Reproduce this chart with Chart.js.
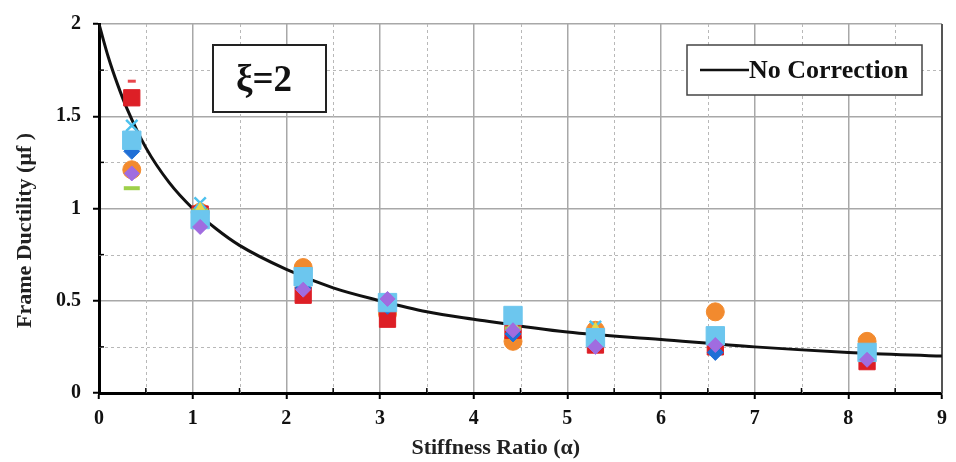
<!DOCTYPE html>
<html>
<head>
<meta charset="utf-8">
<script src="https://cdn.jsdelivr.net/npm/chart.js@4.4.1/dist/chart.umd.min.js"></script>
<style>
  html, body { margin: 0; padding: 0; background: #fff; }
  #wrap { width: 956px; height: 462px; position: relative; }
</style>
</head>
<body>
<div id="wrap"><canvas id="ductChart"></canvas></div>
<script>
// stiffness ratios where the markers sit
const stiffness = [0.35, 1.08, 2.18, 3.08, 4.42, 5.3, 6.58, 8.2];

// marker series
const redSquare      = [1.60, 0.97, 0.53, 0.40, 0.34, 0.26, 0.25, 0.17];
const orangeCircle   = [1.21, 0.98, 0.68, 0.43, 0.28, 0.34, 0.44, 0.28];
const blueDiamond    = [1.31, 0.92, 0.57, 0.47, 0.32, 0.29, 0.22, 0.19];
const purpleDiamond  = [1.19, 0.90, 0.56, 0.51, 0.34, 0.25, 0.26, 0.18];
const greenDash      = [1.11, 0.99, 0.59, 0.46, 0.35, 0.33, 0.28, 0.21];
const cyanCross      = [1.45, 1.03, 0.62, 0.49, 0.38, 0.36, 0.30, 0.23];
const yellowTriangle = [null, 0.99, 0.60, 0.47, 0.36, 0.34, 0.29, 0.22];
const redDash        = [1.69, null, null, null, null, null, null, null];
const skySquare      = [1.37, 0.94, 0.63, 0.49, 0.42, 0.30, 0.31, 0.22];

// "No Correction" curve
const curveX = [0, 0.1, 0.2, 0.3, 0.5, 0.75, 1, 1.25, 1.5, 2, 2.5, 3, 3.5, 4, 5, 6, 7, 8, 9];
const curveY = [2.0, 1.82, 1.67, 1.54, 1.33, 1.14, 1.0, 0.89, 0.80, 0.67, 0.57, 0.50, 0.44, 0.40, 0.33, 0.29, 0.25, 0.22, 0.20];

const xTickValues = [0, 1, 2, 3, 4, 5, 6, 7, 8, 9];
const yTickValues = [0, 0.5, 1, 1.5, 2];

const serif = '"Liberation Serif", "Times New Roman", serif';

function pts(vals) {
    return stiffness.map((x, i) => ({ x: x, y: vals[i] })).filter(p => p.y !== null);
}

function markerSet(label, vals, color, style, radius, order, extra) {
    return Object.assign({
        type: 'scatter',
        label: label,
        data: pts(vals),
        pointStyle: style,
        pointRadius: radius,
        pointHoverRadius: radius,
        backgroundColor: color,
        borderColor: color,
        borderWidth: 1,
        order: order
    }, extra || {});
}

// minor dashed grid + frame + text boxes
const decorPlugin = {
    id: 'decor',
    beforeDatasetsDraw(chart) {
        const { ctx, chartArea: a, scales: { x, y } } = chart;
        ctx.save();
        ctx.strokeStyle = '#b8b8b8';
        ctx.lineWidth = 1;
        ctx.setLineDash([3, 3]);
        for (let v = 0.5; v < 9; v += 1) {
            const px = Math.round(x.getPixelForValue(v)) + 0.5;
            ctx.beginPath(); ctx.moveTo(px, a.top); ctx.lineTo(px, a.bottom); ctx.stroke();
        }
        for (let v = 0.25; v < 2; v += 0.5) {
            const py = Math.round(y.getPixelForValue(v)) + 0.5;
            ctx.beginPath(); ctx.moveTo(a.left, py); ctx.lineTo(a.right, py); ctx.stroke();
        }
        ctx.setLineDash([]);
        // small minor ticks on axes
        ctx.strokeStyle = '#000';
        ctx.lineWidth = 1.5;
        for (let v = 0.5; v < 9; v += 1) {
            const px = x.getPixelForValue(v);
            ctx.beginPath(); ctx.moveTo(px, a.bottom); ctx.lineTo(px, a.bottom - 5); ctx.stroke();
        }
        for (let v = 0.25; v < 2; v += 0.5) {
            const py = y.getPixelForValue(v);
            ctx.beginPath(); ctx.moveTo(a.left, py); ctx.lineTo(a.left + 5, py); ctx.stroke();
        }
        // right edge
        ctx.strokeStyle = '#555';
        ctx.lineWidth = 2;
        ctx.beginPath(); ctx.moveTo(a.right, a.top); ctx.lineTo(a.right, a.bottom); ctx.stroke();
        ctx.restore();
    },
    afterDatasetsDraw(chart) {
        const { ctx } = chart;
        ctx.save();
        // xi box
        ctx.fillStyle = '#fff';
        ctx.fillRect(213, 45, 113, 67);
        ctx.strokeStyle = '#222';
        ctx.lineWidth = 2;
        ctx.strokeRect(213, 45, 113, 67);
        ctx.fillStyle = '#111';
        ctx.font = 'bold 37px ' + serif;
        ctx.textAlign = 'center';
        ctx.textBaseline = 'middle';
        ctx.fillText('ξ=2', 264, 81);
        // legend box
        ctx.fillStyle = '#fff';
        ctx.fillRect(687, 45, 235, 50);
        ctx.strokeStyle = '#444';
        ctx.lineWidth = 1.5;
        ctx.strokeRect(687, 45, 235, 50);
        ctx.strokeStyle = '#111';
        ctx.lineWidth = 2.5;
        ctx.beginPath(); ctx.moveTo(700, 70); ctx.lineTo(749, 70); ctx.stroke();
        ctx.fillStyle = '#111';
        ctx.font = 'bold 26px ' + serif;
        ctx.textAlign = 'left';
        ctx.fillText('No Correction', 749, 71);
        ctx.restore();
    }
};

const ctx = document.getElementById('ductChart');

new Chart(ctx, {
    type: 'scatter',
    data: {
        datasets: [
            {
                type: 'line',
                label: 'No Correction',
                data: curveX.map((x, i) => ({ x: x, y: curveY[i] })),
                borderColor: '#111',
                borderWidth: 3,
                pointRadius: 0,
                fill: false,
                cubicInterpolationMode: 'monotone',
                order: 20
            },
            markerSet('Series 1', orangeCircle, '#f28a2e', 'circle', 9, 12),
            markerSet('Series 2', redSquare, '#dd1f26', 'rect', 11.5, 11),
            markerSet('Series 3', redDash, '#e8474c', 'line', 4, 10, { borderWidth: 3 }),
            markerSet('Series 4', greenDash, '#9ed04a', 'line', 8, 9, { borderWidth: 4 }),
            markerSet('Series 5', cyanCross, '#4cc1ee', 'crossRot', 8, 8, { borderWidth: 2.5 }),
            markerSet('Series 6', yellowTriangle, '#e6d84a', 'triangle', 8, 7),
            markerSet('Series 7', blueDiamond, '#1f6fd6', 'rectRot', 8, 6),
            markerSet('Series 8', skySquare, '#6cc6ee', 'rect', 13, 5),
            markerSet('Series 9', purpleDiamond, '#a06ce0', 'rectRot', 7.5, 4)
        ]
    },
    options: {
        responsive: true,
        maintainAspectRatio: false,
        animation: false,
        layout: { padding: { top: 18, right: 10, left: 0, bottom: 0 } },
        plugins: {
            legend: { display: false },
            tooltip: { enabled: false }
        },
        scales: {
            x: {
                type: 'linear',
                min: 0,
                max: 9,
                afterBuildTicks: axis => { axis.ticks = xTickValues.map(v => ({ value: v })); },
                afterFit: axis => { axis.height = 69; },
                border: { color: '#000', width: 3 },
                grid: { color: '#a8a8a8', lineWidth: 1.5, tickColor: '#000', tickLength: 6, tickWidth: 2 },
                ticks: { color: '#111', padding: 8, font: { family: serif, size: 20, weight: 'bold' } },
                title: {
                    display: true,
                    // trailing spaces nudge the centred title left like the original
                    text: 'Stiffness Ratio (α)         ',
                    color: '#222',
                    padding: { top: 0, bottom: 0 },
                    font: { family: serif, size: 22, weight: 'bold' }
                }
            },
            y: {
                type: 'linear',
                min: 0,
                max: 2,
                afterBuildTicks: axis => { axis.ticks = yTickValues.map(v => ({ value: v })); },
                afterFit: axis => { axis.width = 99; },
                border: { color: '#000', width: 3 },
                grid: { color: '#a8a8a8', lineWidth: 1.5, tickColor: '#000', tickLength: 6, tickWidth: 2 },
                ticks: {
                    color: '#111',
                    padding: 12,
                    font: { family: serif, size: 20, weight: 'bold' },
                    callback: v => String(v)
                },
                title: {
                    display: true,
                    text: 'Frame Ductility (μf )        ',
                    color: '#222',
                    padding: { top: 12, bottom: 4 },
                    font: { family: serif, size: 22, weight: 'bold' }
                }
            }
        }
    },
    plugins: [decorPlugin]
});
</script>
</body>
</html>
